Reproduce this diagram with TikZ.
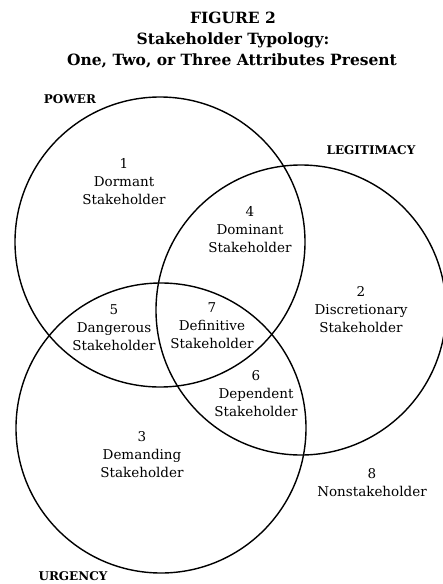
\documentclass[tikz,border=0pt]{standalone}
\usepackage{fontspec}
\setmainfont{DejaVu Serif}
\begin{document}
\begin{tikzpicture}[x=1pt,y=-1pt,
  set/.style={circle,draw,line width=1.4pt,minimum size=290pt,inner sep=0pt},
  region/.style={align=center,font=\fontsize{13.5}{18}\selectfont},
  attr/.style={font=\fontsize{12}{14}\selectfont\bfseries},
  title/.style={font=\fontsize{15.5}{18}\selectfont\bfseries}]
\useasboundingbox (0,0) rectangle (443,584);

% Title
\node (fig) at (233,18) [title] {FIGURE 2};
\node (typ) at (233,40) [title] {Stakeholder Typology:};
\node (sub) at (232,61) [title] {One, Two, or Three Attributes Present};

% The three attributes
\node[set] (power) at (160,242) {};
\node[set] (legit) at (301,310) {};
\node[set] (urgency) at (161,428) {};

\node[attr] (powerlab) at (70,99) {POWER};
\node[attr] (legitlab) at (371,150) {LEGITIMACY};
\node[attr] (urgencylab) at (73,576) {URGENCY};

% Classes
\node[region] (dormant) at (124,182) {1\\Dormant\\Stakeholder};
\node[region] (dominant) at (250,230) {4\\Dominant\\Stakeholder};
\node[region] (discretionary) at (361,310) {2\\Discretionary\\Stakeholder};
\node[region] (dangerous) at (114,328) {5\\Dangerous\\Stakeholder};
\node[region] (definitive) at (212,326) {7\\Definitive\\Stakeholder};
\node[region] (dependent) at (256,394) {6\\Dependent\\Stakeholder};
\node[region] (demanding) at (142,455) {3\\Demanding\\Stakeholder};
\node[region] (nonstake) at (372,483) {8\\Nonstakeholder};

\end{tikzpicture}
\end{document}
